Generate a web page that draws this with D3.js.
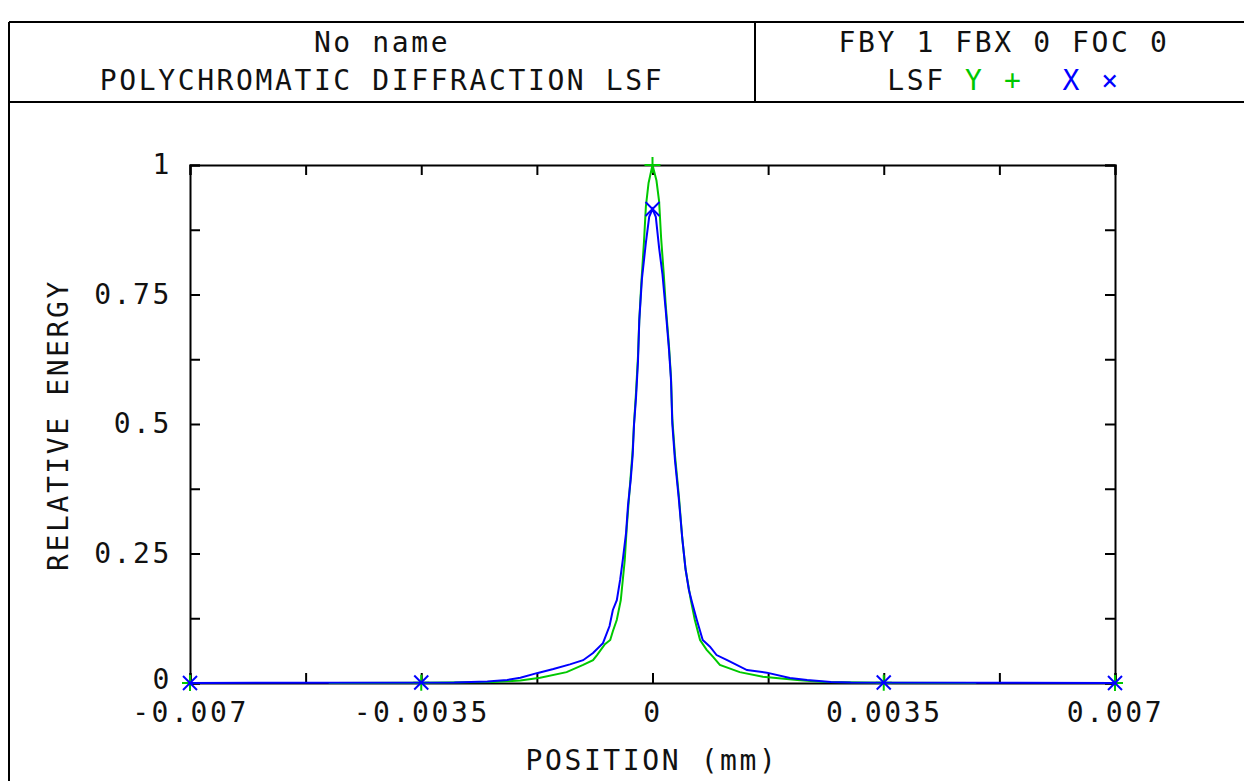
<!DOCTYPE html>
<html><head><meta charset="utf-8">
<script src="https://cdn.jsdelivr.net/npm/d3@7"></script>
<style>
body{margin:0;background:#fff;}
text{font-family:"DejaVu Sans Mono",monospace;fill:#111;}
</style></head>
<body><svg id="c" width="1244" height="781"></svg>
<script>
// ---- data ----
const titleLines = ["No name", "POLYCHROMATIC DIFFRACTION LSF"];
const infoLine = "FBY 1 FBX 0 FOC 0";
const xTickValues = [-0.007,-0.00525,-0.0035,-0.00175,0,0.00175,0.0035,0.00525,0.007];
const xTickLabels = ["-0.007","","-0.0035","","0","","0.0035","","0.007"];
const yTickValues = [0,0.125,0.25,0.375,0.5,0.625,0.75,0.875,1];
const yTickLabels = ["0","","0.25","","0.5","","0.75","","1"];
const markerPositions = [-0.007,-0.0035,0,0.0035,0.007];

// LSF Y (green) : position (mm), relative energy
const yPos = [-0.0049,-0.0035,-0.0024,-0.002,-0.0017,-0.0013,-0.00105,-0.0009,-0.00084,-0.00072,-0.00064,-0.0006,-0.00054,-0.00048,-0.00042,-0.00039,-0.00036,-0.00033,-0.0003,-0.00028,-0.00025,-0.00022,-0.0002,-0.00017,-0.00013,-0.0001,-0.00006,0,0.00006,0.0001,0.00013,0.00017,0.0002,0.00025,0.00028,0.0003,0.00034,0.0004,0.00045,0.0005,0.00058,0.00064,0.00072,0.00082,0.00092,0.00102,0.00132,0.00167,0.00219,0.0026,0.0035,0.0049];
const yVal = [0,0.0005,0.002,0.005,0.01,0.021,0.035,0.044,0.054,0.075,0.083,0.1,0.122,0.16,0.237,0.3,0.35,0.4,0.45,0.5,0.56,0.63,0.7,0.77,0.85,0.92,0.965,1,0.97,0.93,0.86,0.79,0.73,0.65,0.59,0.51,0.44,0.36,0.28,0.22,0.16,0.122,0.083,0.064,0.05,0.035,0.021,0.012,0.006,0.002,0.0005,0];

// LSF X (blue)
const xPos = [-0.007,-0.003,-0.0025,-0.0022,-0.002,-0.00175,-0.0015,-0.00125,-0.00105,-0.0009,-0.00075,-0.00065,-0.0006,-0.00054,-0.00049,-0.00045,-0.0004,-0.00037,-0.00033,-0.0003,-0.00028,-0.00025,-0.00022,-0.0002,-0.00016,-0.0001,-0.00005,0,0.00005,0.0001,0.00015,0.0002,0.00025,0.00028,0.0003,0.00034,0.0004,0.00045,0.0005,0.00055,0.0006,0.00067,0.00076,0.00087,0.00097,0.00113,0.00143,0.00173,0.00208,0.00234,0.0027,0.003,0.007];
const xVal = [0,0.001,0.003,0.006,0.01,0.019,0.027,0.036,0.044,0.058,0.077,0.11,0.141,0.16,0.199,0.237,0.29,0.344,0.392,0.44,0.498,0.55,0.62,0.7,0.78,0.85,0.9,0.915,0.9,0.84,0.79,0.72,0.643,0.585,0.5,0.43,0.353,0.28,0.22,0.18,0.155,0.122,0.083,0.07,0.054,0.044,0.025,0.02,0.0097,0.006,0.002,0.001,0];

const green = "#00c800", blue = "#0000ff";

// ---- layout ----
const svg = d3.select("#c");
const L = 190, R = 1115, T = 165, B = 683;
const x = d3.scaleLinear().domain([-0.007,0.007]).range([L,R]);
const y = d3.scaleLinear().domain([0,1]).range([B,T]);

// outer frame / header
const fr = svg.append("g").attr("stroke","#000").attr("stroke-width",2);
fr.append("line").attr("x1",9).attr("x2",9).attr("y1",22).attr("y2",781);
fr.append("line").attr("x1",9).attr("x2",1244).attr("y1",22).attr("y2",22);
fr.append("line").attr("x1",9).attr("x2",1244).attr("y1",102).attr("y2",102);
fr.append("line").attr("x1",755).attr("x2",755).attr("y1",22).attr("y2",102);

const fs = 28, ls = 2.6;
function txt(s, tx, ty, anchor, color){
  return svg.append("text").attr("x",tx).attr("y",ty).attr("text-anchor",anchor||"middle")
    .attr("font-size",fs).attr("letter-spacing",ls).style("fill",color||"#111").text(s);
}
txt(titleLines[0], 382, 52);
txt(titleLines[1], 382, 90);
txt(infoLine, 1004, 52);
// legend line
const lg = svg.append("text").attr("x",1004).attr("y",90).attr("text-anchor","middle")
  .attr("font-size",fs).attr("letter-spacing",ls).attr("xml:space","preserve");
lg.append("tspan").style("fill","#111").text("LSF ");
lg.append("tspan").style("fill",green).text("Y + ");
lg.append("tspan").style("fill",blue).text(" X \u00d7");

// axes
const ax = svg.append("g");
const xb = ax.append("g").attr("transform",`translate(0,${B})`)
  .call(d3.axisBottom(x).tickValues(xTickValues).tickSize(-10).tickPadding(19)
    .tickFormat((d,i)=>xTickLabels[i]));
const xt = ax.append("g").attr("transform",`translate(0,${T})`)
  .call(d3.axisTop(x).tickValues(xTickValues).tickSize(-10).tickFormat(""));
const yl = ax.append("g").attr("transform",`translate(${L},0)`)
  .call(d3.axisLeft(y).tickValues(yTickValues).tickSize(-10).tickPadding(18)
    .tickFormat((d,i)=>yTickLabels[i]));
const yr = ax.append("g").attr("transform",`translate(${R},0)`)
  .call(d3.axisRight(y).tickValues(yTickValues).tickSize(-10).tickFormat(""));
ax.selectAll(".domain").attr("stroke","#000").attr("stroke-width",2);
ax.selectAll(".tick line").attr("stroke","#000").attr("stroke-width",2);
ax.selectAll(".tick text").attr("font-size",fs).attr("letter-spacing",ls)
  .attr("font-family","DejaVu Sans Mono").style("fill","#111");
xb.selectAll(".tick text").attr("dy","0.71em");
yl.selectAll(".tick text").filter(d=>d===0).attr("dy","0.2em");

// axis titles
txt("POSITION (mm)", 652, 770);
svg.append("text").attr("transform","translate(68,425) rotate(-90)")
  .attr("text-anchor","middle").attr("font-size",fs).attr("letter-spacing",ls)
  .text("RELATIVE ENERGY");

// curves
const line = d3.line().x(d=>x(d[0])).y(d=>y(d[1]));
const gData = yPos.map((p,i)=>[p,yVal[i]]);
const bData = xPos.map((p,i)=>[p,xVal[i]]);
function interp(data, p){
  if (p < data[0][0] || p > data[data.length-1][0]) return 0;
  for (let i=0;i<data.length-1;i++){
    const a=data[i], b=data[i+1];
    if (p>=a[0] && p<=b[0]) return a[1]+(b[1]-a[1])*(p-a[0])/(b[0]-a[0]);
  }
  return 0;
}
svg.append("path").datum(gData).attr("d",line).attr("fill","none")
  .attr("stroke",green).attr("stroke-width",2);
const gm = svg.append("g").attr("stroke",green).attr("stroke-width",2);
markerPositions.forEach(p=>{
  const cx=x(p), cy=y(interp(gData,p)), s=8;
  gm.append("line").attr("x1",cx-s).attr("x2",cx+s).attr("y1",cy).attr("y2",cy);
  gm.append("line").attr("x1",cx).attr("x2",cx).attr("y1",cy-s).attr("y2",cy+s);
});
svg.append("path").datum(bData).attr("d",line).attr("fill","none")
  .attr("stroke",blue).attr("stroke-width",2);
const bm = svg.append("g").attr("stroke",blue).attr("stroke-width",2);
markerPositions.forEach(p=>{
  const cx=x(p), cy=y(interp(bData,p)), s=7;
  bm.append("line").attr("x1",cx-s).attr("x2",cx+s).attr("y1",cy-s).attr("y2",cy+s);
  bm.append("line").attr("x1",cx-s).attr("x2",cx+s).attr("y1",cy+s).attr("y2",cy-s);
});
</script></body></html>
